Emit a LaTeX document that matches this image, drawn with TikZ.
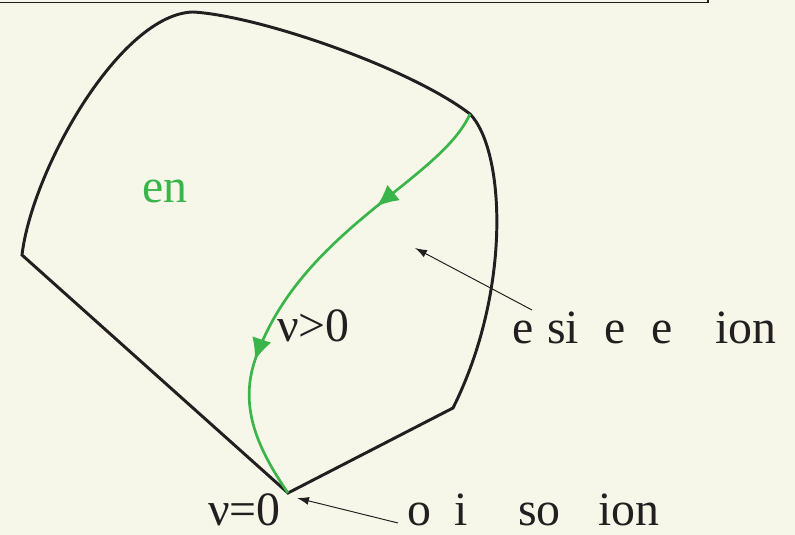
\documentclass[tikz,border=0pt]{standalone}
\usepackage{fontspec}
\setmainfont{Liberation Serif}
\usetikzlibrary{arrows.meta,decorations.markings}

\begin{document}
\begin{tikzpicture}[scale=1,
  lbl/.style={anchor=base west, inner sep=0pt, font=\fontsize{34}{38}\selectfont, text=InkBlack},
  hinweis/.style={-{Latex[length=3mm,width=2mm]}, InkBlack, line width=0.7pt}]
\definecolor{PaperBeige}{RGB}{247,247,233}
\definecolor{PathGreen}{RGB}{57,181,74}
\definecolor{InkBlack}{RGB}{35,31,32}

% Hintergrund und Rahmenrest oben
\useasboundingbox (0,0) rectangle (19.875,13.375);
\fill[PaperBeige] (0,0) rectangle (19.875,13.375);
\draw[InkBlack, line width=1.2pt] (0,13.31) -- (17.7,13.31) -- (17.7,13.375);

% ======================= ZULAESSIGER BEREICH =======================
\coordinate (L) at (0.55,7.0);
\coordinate (T) at (4.825,13.075);
\coordinate (R) at (11.75,10.525);
\coordinate (Q) at (11.325,3.175);
\coordinate (B) at (7.2,1.05);
\coordinate (G) at (6.375,4.375);

\draw[InkBlack, line width=2.1pt]
  (L) .. controls (0.8,9.125) and (3.0,13.025) .. (T)
      .. controls (6.5,12.975) and (10.25,11.675) .. (R)
      .. controls (12.625,9.625) and (12.8,6.125) .. (Q)
      -- (B) -- cycle;

% Pfad: vom Rand zur optimalen Loesung
\draw[PathGreen, line width=1.9pt, postaction={decorate},
  decoration={markings,
    mark=at position 0.28 with {\arrow{Latex[length=5.5mm,width=5mm]}},
    mark=at position 0.70 with {\arrow{Latex[length=5.5mm,width=5mm]}}}]
  (R) .. controls (11.0,8.85) and (7.5,7.625) .. (G)
      .. controls (6.0,3.25) and (6.375,2.25) .. (B);

% Beschriftungen
\node[lbl, text=PathGreen] (pfad) at (3.55,8.3) {en};
\node[lbl] (vpos) at (6.925,4.825) {ν>0};
\node[lbl] (vnull) at (5.2,0.24) {ν=0};
\node[lbl] (bereich) at (12.8,4.775)
  {\makebox[0.875cm][l]{e}\makebox[1.425cm][l]{si}\makebox[1.175cm][l]{e}\makebox[1.6cm][l]{e}ion};
\node[lbl] (loesung) at (10.175,0.24)
  {\makebox[1.175cm][l]{o}\makebox[1.6cm][l]{i}\makebox[2.0cm][l]{so}ion};

% Hinweispfeile
\coordinate (bereichpfeil) at (13.3,5.625);
\coordinate (bereichziel) at (10.375,7.175);
\coordinate (loesungpfeil) at (9.95,0.3);
\coordinate (loesungziel) at (7.425,0.925);
\draw[hinweis] (bereichpfeil) -- (bereichziel);
\draw[hinweis] (loesungpfeil) -- (loesungziel);

\end{tikzpicture}
\end{document}
